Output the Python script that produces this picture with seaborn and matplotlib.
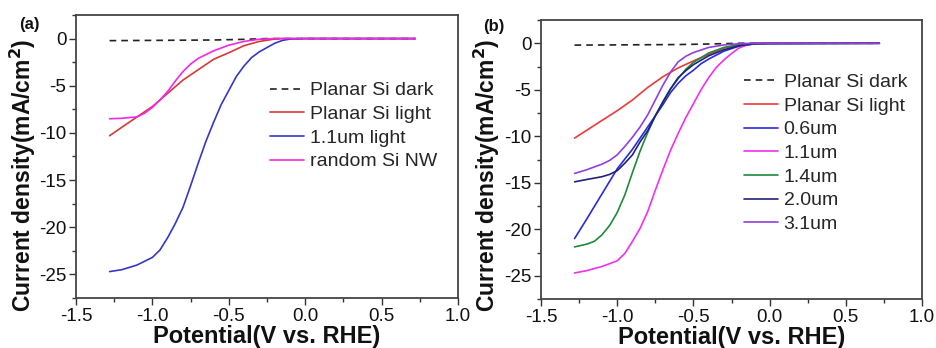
import matplotlib
matplotlib.use("Agg")
import matplotlib.pyplot as plt
import seaborn as sns
from matplotlib.ticker import MultipleLocator, FormatStrFormatter

# ---------------- data (panel a) ----------------
a_dark_x = [-1.28, -0.6, -0.4, -0.25, 0.72]
a_dark_y = [-0.22, -0.15, -0.08, 0.0, 0.0]

a_red_x = [-1.28, -1.2, -1.1, -1.0, -0.9, -0.8, -0.7, -0.6, -0.5, -0.4, -0.3, -0.25, -0.2, -0.15, 0.0, 0.72]
a_red_y = [-10.3, -9.4, -8.3, -7.2, -5.8, -4.4, -3.3, -2.2, -1.5, -0.75, -0.3, -0.18, -0.05, 0.0, 0.0, 0.0]

a_blue_x = [-1.28, -1.2, -1.1, -1.0, -0.95, -0.9, -0.85, -0.8, -0.75, -0.7, -0.65, -0.6, -0.55, -0.5,
            -0.45, -0.4, -0.35, -0.3, -0.25, -0.2, -0.15, -0.1, 0.0, 0.72]
a_blue_y = [-24.7, -24.5, -24.0, -23.2, -22.4, -21.1, -19.6, -17.9, -15.6, -13.2, -10.9, -8.9, -7.0, -5.5,
            -4.0, -2.9, -2.0, -1.4, -0.95, -0.5, -0.2, -0.05, 0.0, 0.0]

a_mag_x = [-1.28, -1.2, -1.1, -1.05, -1.0, -0.95, -0.9, -0.85, -0.8, -0.75, -0.7, -0.6, -0.5, -0.4, -0.3, -0.2, 0.72]
a_mag_y = [-8.5, -8.45, -8.3, -7.9, -7.3, -6.5, -5.6, -4.5, -3.5, -2.7, -2.1, -1.3, -0.7, -0.3, -0.07, 0.0, 0.0]

# ---------------- data (panel b) ----------------
b_dark_x = [-1.28, -0.6, -0.4, -0.2, 0.72]
b_dark_y = [-0.2, -0.14, -0.08, 0.0, 0.0]

b_red_x = [-1.28, -1.1, -1.0, -0.9, -0.8, -0.7, -0.6, -0.5, -0.4, -0.3, -0.2, -0.1, 0.72]
b_red_y = [-10.2, -8.3, -7.25, -6.1, -4.75, -3.6, -2.65, -1.9, -1.2, -0.52, -0.15, 0.0, 0.0]

b_06_x = [-1.28, -1.2, -1.1, -1.0, -0.9, -0.8, -0.75, -0.7, -0.65, -0.6, -0.55, -0.5, -0.45, -0.4,
          -0.3, -0.2, -0.1, 0.0, 0.72]
b_06_y = [-21.0, -18.9, -16.2, -13.5, -11.4, -9.0, -7.8, -6.6, -5.3, -4.3, -3.5, -2.9, -2.2, -1.7,
          -0.85, -0.3, -0.06, 0.0, 0.0]

b_11_x = [-1.28, -1.2, -1.1, -1.0, -0.95, -0.9, -0.85, -0.8, -0.75, -0.7, -0.65, -0.6, -0.55, -0.5,
          -0.45, -0.4, -0.35, -0.3, -0.25, -0.2, -0.15, -0.1, 0.0, 0.72]
b_11_y = [-24.7, -24.45, -24.0, -23.4, -22.6, -21.3, -19.9, -18.1, -15.8, -13.6, -11.5, -9.7, -8.0, -6.5,
          -5.0, -3.7, -2.6, -1.8, -1.1, -0.5, -0.2, -0.06, 0.0, 0.0]

b_14_x = [-1.28, -1.2, -1.15, -1.1, -1.05, -1.0, -0.95, -0.9, -0.85, -0.8, -0.75, -0.7, -0.65, -0.6,
          -0.55, -0.5, -0.4, -0.3, -0.2, -0.1, 0.72]
b_14_y = [-21.9, -21.6, -21.3, -20.6, -19.6, -18.2, -16.3, -13.9, -11.6, -9.6, -7.8, -6.3, -4.9, -3.8,
          -2.8, -2.05, -1.05, -0.45, -0.15, -0.03, 0.0]

b_20_x = [-1.28, -1.2, -1.1, -1.05, -1.0, -0.95, -0.9, -0.85, -0.8, -0.75, -0.7, -0.65, -0.6, -0.55,
          -0.5, -0.4, -0.3, -0.2, -0.1, 0.72]
b_20_y = [-14.9, -14.65, -14.35, -14.1, -13.7, -12.9, -12.0, -10.6, -9.4, -7.8, -6.3, -4.9, -3.7, -2.95,
          -2.3, -1.35, -0.7, -0.27, -0.05, 0.0]

b_31_x = [-1.28, -1.2, -1.1, -1.05, -1.0, -0.95, -0.9, -0.85, -0.8, -0.75, -0.7, -0.65, -0.6, -0.55,
          -0.5, -0.4, -0.3, -0.2, -0.1, 0.72]
b_31_y = [-14.0, -13.6, -13.0, -12.6, -12.0, -11.1, -10.1, -9.0, -7.7, -6.1, -4.5, -3.1, -2.0, -1.4,
          -1.0, -0.45, -0.18, -0.05, 0.0, 0.0]

x_ticks = [-1.5, -1.0, -0.5, 0.0, 0.5, 1.0]
y_ticks = [0, -5, -10, -15, -20, -25]

# ---------------- style ----------------
sns.set_theme(style="ticks")
plt.rcParams["font.family"] = ["Liberation Sans", "DejaVu Sans"]
plt.rcParams["axes.unicode_minus"] = False

fig = plt.figure(figsize=(9.37, 3.48), dpi=100)
ax_a = fig.add_axes([0.0811, 0.1437, 0.4077, 0.8132])
ax_b = fig.add_axes([0.5774, 0.1408, 0.4066, 0.8017])

LW = 1.2

series_a = [
    (a_dark_x, a_dark_y, "Planar Si dark", "#222222", "--"),
    (a_red_x, a_red_y, "Planar Si light", "#d83838", "-"),
    (a_blue_x, a_blue_y, "1.1um light", "#3636c8", "-"),
    (a_mag_x, a_mag_y, "random Si NW", "#f028e8", "-"),
]
series_b = [
    (b_dark_x, b_dark_y, "Planar Si dark", "#222222", "--"),
    (b_red_x, b_red_y, "Planar Si light", "#f03838", "-"),
    (b_06_x, b_06_y, "0.6um", "#2a2ae0", "-"),
    (b_11_x, b_11_y, "1.1um", "#f030ee", "-"),
    (b_14_x, b_14_y, "1.4um", "#1e8a3c", "-"),
    (b_20_x, b_20_y, "2.0um", "#22227a", "-"),
    (b_31_x, b_31_y, "3.1um", "#9040dc", "-"),
]

panels = [
    (ax_a, series_a, (0.508, 0.764), "(a)", (29, 24), (-0.0995, 0.435)),
    (ax_b, series_b, (0.533, 0.808), "(b)", (494, 26), (-0.102, 0.444)),
]

for ax, series, leg_xy, tag, tag_xy, ylab_xy in panels:
    for xs, ys, lab, col, ls in series:
        if ls == "--":
            sns.lineplot(x=xs, y=ys, ax=ax, color=col, lw=LW, label=lab, dashes=False,
                         linestyle=(0, (4, 3)))
        else:
            sns.lineplot(x=xs, y=ys, ax=ax, color=col, lw=LW, label=lab)
    ax.set_xlim(-1.5, 1.0)
    ax.set_ylim(-27.5, 2.5)
    ax.set_xticks(x_ticks)
    ax.set_yticks(y_ticks)
    ax.xaxis.set_minor_locator(MultipleLocator(0.25))
    ax.yaxis.set_minor_locator(MultipleLocator(2.5))
    ax.xaxis.set_major_formatter(FormatStrFormatter("%.1f"))
    ax.yaxis.set_major_formatter(FormatStrFormatter("%d"))
    ax.tick_params(axis="both", which="major", direction="out", length=5, width=1.0,
                   labelsize=13.5, colors="#333333", labelcolor="#111111", pad=2)
    ax.tick_params(axis="both", which="minor", direction="out", length=3, width=1.0, colors="#333333")
    for sp in ax.spines.values():
        sp.set_visible(True)
        sp.set_color("#444444")
        sp.set_linewidth(1.3)
    ax.set_xlabel("Potential(V vs. RHE)", fontsize=17, fontweight="bold", labelpad=0, color="#111111")
    ax.set_ylabel("Current density(mA/cm$^\\mathbf{2}$)", fontsize=16.5, fontweight="bold",
                  color="#111111")
    ax.yaxis.set_label_coords(*ylab_xy)
    ax.legend(loc="upper left", bbox_to_anchor=leg_xy, frameon=False, fontsize=14,
              handlelength=1.75, handletextpad=0.28, labelspacing=0.31, borderpad=0,
              borderaxespad=0)
    fig.text(tag_xy[0] / 937, 1 - tag_xy[1] / 348, tag, fontsize=12, fontweight="bold",
             ha="center", va="center", color="#111111")

fig.savefig("out.png", dpi=100)
